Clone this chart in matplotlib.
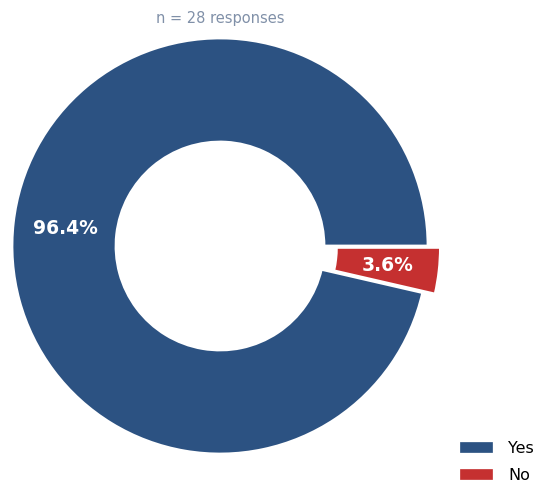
import matplotlib
matplotlib.use("Agg")
from matplotlib import pyplot as plt
from matplotlib.patches import Patch

labels = ["Yes", "No"]
values = [96.4, 3.6]
colors = ["#2c5282", "#c53030"]
explode = [0, 0.06]
title = "n = 28 responses"

fig = plt.figure(figsize=(5.5, 4.92), dpi=100)
ax = fig.add_axes([0, 0, 1, 1])

wedges, texts, autotexts = ax.pie(
    values,
    colors=colors,
    explode=explode,
    startangle=0,
    autopct="%.1f%%",
    pctdistance=0.75,
    wedgeprops=dict(width=0.5, edgecolor="white", linewidth=2),
    textprops=dict(color="white", fontsize=13.5, fontweight="bold"),
)

# centre at (220, 246) px, radius ~208 px
ax.set_aspect("auto")
ax.set_xlim(-220 / 208, 330 / 208)
ax.set_ylim(-246 / 208, 246 / 208)
ax.axis("off")

fig.text(220 / 550, 1 - 18 / 492, title, ha="center", va="center",
         color="#8090a8", fontsize=10.5)

handles = [Patch(facecolor=c, edgecolor=c, linewidth=0.5) for c in colors]
fig.legend(handles, labels, loc="lower right", bbox_to_anchor=(0.997, -0.01),
           frameon=False, fontsize=11.5, handlelength=2.0, handleheight=0.55,
           labelspacing=0.75, handletextpad=1.0)

fig.savefig("out.png", dpi=100)
